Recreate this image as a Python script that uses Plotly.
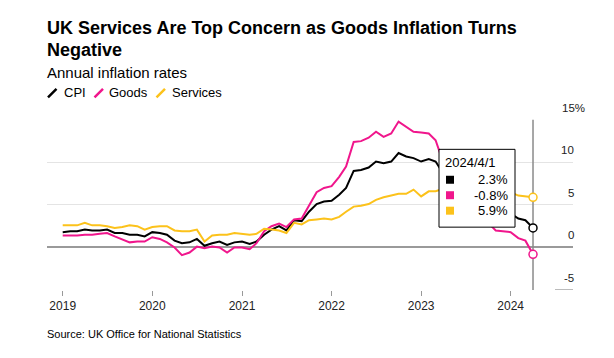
import plotly.graph_objects as go
import pandas as pd

# ---------------- data ----------------
months = pd.date_range("2019-01-01", "2024-04-01", freq="MS").strftime("%Y-%m-%d").tolist()

cpi = [1.8, 1.9, 1.9, 2.1, 2.0, 2.0, 2.1, 1.7, 1.7, 1.5, 1.5, 1.3,
       1.8, 1.7, 1.5, 0.8, 0.5, 0.6, 1.0, 0.2, 0.5, 0.7, 0.3, 0.6,
       0.7, 0.4, 0.7, 1.5, 2.1, 2.5, 2.0, 3.2, 3.1, 4.2, 5.1, 5.4,
       5.5, 6.2, 7.0, 9.0, 9.1, 9.4, 10.1, 9.9, 10.1, 11.1, 10.7, 10.5,
       10.1, 10.4, 10.1, 8.7, 8.7, 7.9, 6.8, 6.7, 6.7, 4.6, 3.9, 4.0,
       4.0, 3.4, 3.2, 2.3]

goods = [1.4, 1.4, 1.4, 1.5, 1.5, 1.6, 1.7, 1.3, 0.9, 0.6, 0.7, 0.7,
         1.2, 1.0, 0.6, 0.0, -0.9, -0.6, 0.1, -0.1, 0.1, 0.0, -0.6, 0.0,
         0.0, -0.2, 0.5, 1.9, 2.5, 2.8, 2.4, 3.3, 3.4, 4.9, 6.5, 7.0,
         7.2, 8.3, 9.5, 12.4, 12.5, 12.9, 13.6, 13.0, 13.4, 14.8, 14.2, 13.6,
         13.5, 13.4, 12.6, 10.0, 9.7, 8.5, 7.1, 6.6, 5.7, 2.9, 2.0, 1.9,
         1.8, 1.1, 0.8, -0.8]

services = [2.6, 2.6, 2.6, 2.9, 2.6, 2.6, 2.5, 2.3, 2.4, 2.6, 2.5, 2.1,
            2.4, 2.5, 2.5, 2.0, 1.9, 1.9, 2.1, 0.7, 1.4, 1.5, 1.5, 1.7,
            1.6, 1.5, 1.6, 2.2, 2.1, 2.0, 1.7, 2.9, 2.7, 3.2, 3.3, 3.4,
            3.3, 3.6, 4.2, 4.8, 4.9, 5.1, 5.6, 5.9, 6.1, 6.3, 6.3, 6.8,
            6.0, 6.6, 6.6, 6.9, 7.4, 7.2, 7.4, 6.8, 6.9, 6.6, 6.3, 6.4,
            6.5, 6.1, 6.0, 5.9]

series_names = ["CPI", "Goods", "Services"]
series_values = [cpi, goods, services]
series_colors = ["#000000", "#f0168c", "#fcc21b"]

x_tick_dates = ["2019-01-01", "2020-01-01", "2021-01-01", "2022-01-01", "2023-01-01", "2024-01-01"]
x_tick_labels = ["2019", "2020", "2021", "2022", "2023", "2024"]
y_tick_values = [-5, 0, 5, 10, 15]
y_tick_labels = ["-5", "0", "5", "10", "15%"]

title_lines = ["UK Services Are Top Concern as Goods Inflation Turns", "Negative"]
subtitle = "Annual inflation rates"
source = "Source: UK Office for National Statistics"
hover_date_label = "2024/4/1"

# ---------------- layout geometry (screenshot pixels) ----------------
OFF = 8                      # page body margin of the html page
W, H = 614 - OFF, 358 - OFF  # figure size
L, R, T, B = 47, 573, 118.6, 290
FONT = "Liberation Sans, Arial, sans-serif"


def px(p):
    return (p - L) / (R - L)


def py(p):
    return (B - p) / (B - T)


fig = go.Figure()
for name, vals, col in zip(series_names, series_values, series_colors):
    fig.add_trace(go.Scatter(x=months, y=vals, mode="lines", name=name,
                             line=dict(color=col, width=2), hoverinfo="skip"))

# hover markers at the last point
for name, vals, col in zip(series_names, series_values, series_colors):
    fig.add_trace(go.Scatter(x=[months[-1]], y=[vals[-1]], mode="markers",
                             marker=dict(size=8, color="white", line=dict(color=col, width=1.5)),
                             hoverinfo="skip", showlegend=False))

shapes = []
# crosshair
shapes.append(dict(type="line", xref="x", yref="y", x0=months[-1], x1=months[-1], y0=-5, y1=15,
                   line=dict(color="#8a8a8a", width=1.5), layer="between"))
# small -5 segment
shapes.append(dict(type="line", xref="paper", yref="y", x0=px(555), x1=1, y0=-5, y1=-5,
                   line=dict(color="#777", width=1), layer="above"))

# legend slashes
legend_x = [48, 94.5, 156.5]
legend_tx = [63.5, 109, 172]
for lx, col in zip(legend_x, series_colors):
    shapes.append(dict(type="line", xref="paper", yref="paper", x0=px(lx), y0=py(97), x1=px(lx + 8.5), y1=py(88.5),
                       line=dict(color=col, width=2.5), layer="above"))

# tooltip box
shapes.append(dict(type="rect", xref="paper", yref="paper", x0=px(439), x1=px(515), y0=py(227), y1=py(149),
                   line=dict(color="black", width=1), fillcolor="white", layer="above"))
row_y = [179.5, 195, 210.5]
for ry, col in zip(row_y, series_colors):
    shapes.append(dict(type="rect", xref="paper", yref="paper", x0=px(446), x1=px(454), y0=py(ry + 4), y1=py(ry - 4),
                       line=dict(width=0), fillcolor=col, layer="above"))

ann = []
ann.append(dict(text="<b>%s</b>" % title_lines[0], x=px(47), y=py(27.5), xanchor="left", yanchor="middle",
                font=dict(size=18, color="#000", family=FONT)))
ann.append(dict(text="<b>%s</b>" % title_lines[1], x=px(47), y=py(49.5), xanchor="left", yanchor="middle",
                font=dict(size=18, color="#000", family=FONT)))
ann.append(dict(text=subtitle, x=px(47), y=py(71.5), xanchor="left", yanchor="middle",
                font=dict(size=15, color="#000", family=FONT)))
for tx, name in zip(legend_tx, series_names):
    ann.append(dict(text=name, x=px(tx), y=py(92.5), xanchor="left", yanchor="middle",
                    font=dict(size=13, color="#000", family=FONT)))
ann.append(dict(text=source, x=px(47), y=py(334), xanchor="left", yanchor="middle",
                font=dict(size=11, color="#000", family="Liberation Sans Narrow, " + FONT)))

# y labels (above gridlines, right side)
for v, lab in zip(y_tick_values, y_tick_labels):
    if lab.endswith("%"):
        ann.append(dict(text=lab, x=px(561.5), y=v, yref="y", xanchor="left", yanchor="middle", yshift=12,
                        font=dict(size=11.5, color="#222", family=FONT)))
    else:
        ann.append(dict(text=lab, x=px(573.5), y=v, yref="y", xanchor="right", yanchor="middle", yshift=12,
                        font=dict(size=11.5, color="#222", family=FONT)))

# tooltip texts
ann.append(dict(text=hover_date_label, x=px(445), y=py(162), xanchor="left", yanchor="middle",
                font=dict(size=13, color="#000", family=FONT)))
for ry, vals in zip(row_y, series_values):
    ann.append(dict(text="%.1f%%" % vals[-1], x=px(508), y=py(ry), xanchor="right", yanchor="middle",
                    font=dict(size=13, color="#000", family=FONT)))

for a in ann:
    a.setdefault("xref", "paper")
    a.setdefault("yref", "paper")
    a["showarrow"] = False
    a["borderpad"] = 0
    a["borderwidth"] = 0

fig.update_layout(
    width=W, height=H,
    margin=dict(l=L - OFF, r=(W + OFF) - R, t=T - OFF, b=(H + OFF) - B, pad=0),
    plot_bgcolor="white", paper_bgcolor="white",
    showlegend=False,
    font=dict(family=FONT, size=12, color="#222"),
    shapes=shapes, annotations=ann,
    xaxis=dict(type="date", range=["2018-10-29", "2024-09-11"], tickvals=x_tick_dates, ticktext=x_tick_labels,
               ticks="outside", ticklen=5, tickwidth=1, tickcolor="#999", showgrid=False, zeroline=False,
               showline=False, tickfont=dict(size=12, color="#222", family=FONT)),
    yaxis=dict(range=[-5, 15.1], tickvals=[v for v in y_tick_values if v > -5], showticklabels=False,
               showgrid=True, gridcolor="#e4e4e4", gridwidth=1, zeroline=True, zerolinecolor="#9a9a9a",
               zerolinewidth=1.5, showline=False, ticks=""),
    hovermode=False,
)

fig.write_html("out.html")
